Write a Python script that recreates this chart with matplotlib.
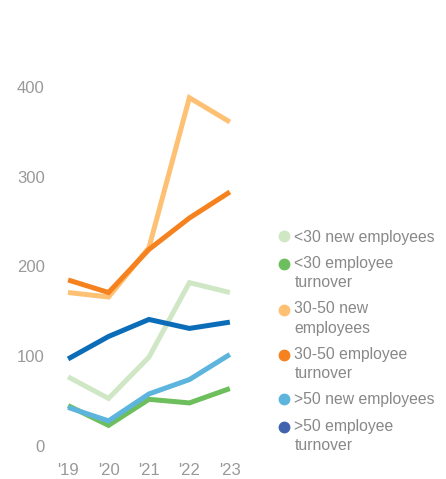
import numpy as np
import matplotlib.pyplot as plt
from matplotlib.lines import Line2D
from matplotlib.legend_handler import HandlerLine2D

# data
years = ["'19", "'20", "'21", "'22", "'23"]
under30_new = [77, 53, 99, 182, 171]
under30_turnover = [45, 23, 52, 48, 64]
mid_new = [171, 166, 221, 388, 361]
mid_turnover = [185, 171, 219, 254, 283]
over50_new = [43, 28, 58, 74, 102]
over50_turnover = [97, 122, 141, 131, 138]

labels = ["<30 new employees", "<30 employee\nturnover", "30-50 new\nemployees",
          "30-50 employee\nturnover", ">50 new employees", ">50 employee\nturnover"]
line_colors = ["#CFE7C5", "#6DBE5C", "#FEC173", "#F5821F", "#5DB5DD", "#0B6DB7"]
marker_colors = ["#CFE7C5", "#6DBE5C", "#FEC173", "#F5821F", "#5DB5DD", "#4163AF"]


class FirstLineHandler(HandlerLine2D):
    # put the dot next to the first text line instead of the middle
    def __init__(self, shift, **kw):
        super().__init__(**kw)
        self.shift = shift

    def create_artists(self, legend, orig_handle, xdescent, ydescent, width, height, fontsize, trans):
        artists = super().create_artists(legend, orig_handle, xdescent, ydescent, width, height, fontsize, trans)
        for a in artists:
            a.set_ydata(np.asarray(a.get_ydata()) + self.shift)
        return artists


plt.rcParams['font.family'] = ['Liberation Sans', 'DejaVu Sans']

fig = plt.figure(figsize=(4.46, 4.79), dpi=100)
ax = fig.add_axes([0.1345, 0.0689, 0.399, 0.787])

x = range(len(years))
series = [under30_new, under30_turnover, mid_new, mid_turnover, over50_new, over50_turnover]
# draw order so the darker lines sit on top like the original
order = [0, 2, 3, 1, 4, 5]
for i in order:
    ax.plot(x, series[i], color=line_colors[i], lw=3.6, solid_joinstyle='miter', solid_capstyle='butt')

ax.set_xlim(-0.2, 4.2)
ax.set_ylim(0, 420)
ax.set_xticks(list(x))
ax.set_xticklabels(years)
ax.set_yticks([0, 100, 200, 300, 400])
ax.tick_params(length=0, labelsize=12, labelcolor='#999999')
ax.tick_params(axis='x', pad=12)
ax.tick_params(axis='y', pad=11)
for s in ax.spines.values():
    s.set_visible(False)

handles = [Line2D([], [], ls='none', marker='o', ms=7.5, color=c) for c in marker_colors]
hmap = {h: FirstLineHandler(6.8) for h, lab in zip(handles, labels) if '\n' in lab}
leg = fig.legend(handles, labels, loc='upper left', bbox_to_anchor=(0.607, 0.537),
                 frameon=False, fontsize=11.3, labelcolor='#888888', handler_map=hmap,
                 handlelength=0.7, handletextpad=0.3, labelspacing=0.72, borderpad=0)
for t in leg.get_texts():
    t.set_linespacing(1.35)

fig.savefig('out.png', dpi=100)
